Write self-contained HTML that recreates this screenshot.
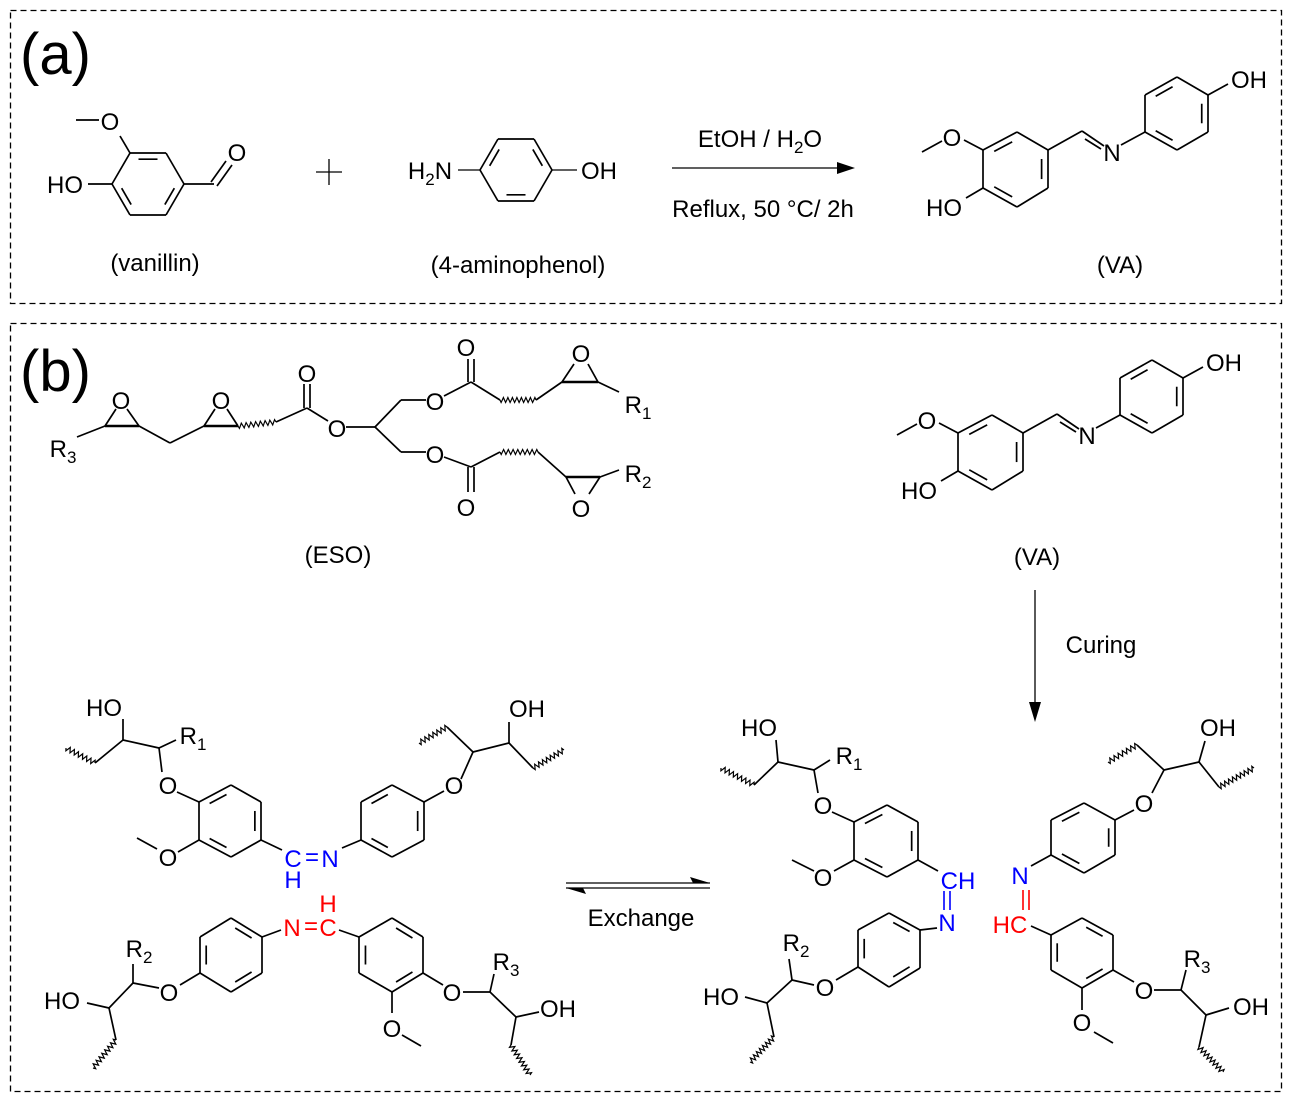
<!DOCTYPE html>
<html><head><meta charset="utf-8"><style>
html,body{margin:0;padding:0;background:#fff;}
svg{display:block;}
text{font-family:"Liberation Sans",Arial,sans-serif;fill:#000;}
.a{font-size:24px;text-anchor:middle;}
.b{fill:#0000ff;}
.r{fill:#ff0000;}
.s{font-size:17px;}
</style></head><body>
<svg id="s" width="1294" height="1101" viewBox="0 0 1294 1101" xmlns="http://www.w3.org/2000/svg">
<rect x="10.5" y="10.5" width="1271" height="293" fill="none" stroke="#000" stroke-width="1.3" stroke-dasharray="6,4"/>
<rect x="10.5" y="323.5" width="1271" height="768" fill="none" stroke="#000" stroke-width="1.3" stroke-dasharray="6,4"/>
<g id="g"></g>
<text x="20" y="74" style="font-size:58px">(a)</text>
<text x="20" y="391" style="font-size:58px">(b)</text>
<text class="a" x="110" y="130">O</text>
<text class="a" x="65" y="193">HO</text>
<text class="a" x="237" y="161">O</text>
<text class="a" x="155" y="271">(vanillin)</text>
<text class="a" x="430" y="179">H<tspan class="s" dy="6">2</tspan><tspan dy="-6">N</tspan></text>
<text class="a" x="599" y="179">OH</text>
<text class="a" x="518" y="273">(4-aminophenol)</text>
<text class="a" x="760" y="147">EtOH / H<tspan class="s" dy="6">2</tspan><tspan dy="-6">O</tspan></text>
<text class="a" x="763" y="217">Reflux, 50 °C/ 2h</text>
<g>
<text class="a" x="952" y="146">O</text>
<text class="a" x="944" y="216">HO</text>
<text class="a" x="1112" y="161">N</text>
<text class="a" x="1249" y="88">OH</text>
</g>
<text class="a" x="1120" y="273">(VA)</text>
<g transform="translate(-25,283)">
<text class="a" x="952" y="146">O</text>
<text class="a" x="944" y="216">HO</text>
<text class="a" x="1112" y="161">N</text>
<text class="a" x="1249" y="88">OH</text>
</g>
<text class="a" x="1037" y="565">(VA)</text>
<text class="a" x="63" y="457">R<tspan class="s" dy="6">3</tspan></text>
<text class="a" x="121" y="409">O</text>
<text class="a" x="221" y="409">O</text>
<text class="a" x="307" y="382">O</text>
<text class="a" x="337" y="437">O</text>
<text class="a" x="435" y="410">O</text>
<text class="a" x="435" y="463">O</text>
<text class="a" x="466" y="356">O</text>
<text class="a" x="466" y="516">O</text>
<text class="a" x="581" y="362">O</text>
<text class="a" x="581" y="517">O</text>
<text class="a" x="638" y="413">R<tspan class="s" dy="6">1</tspan></text>
<text class="a" x="638" y="482">R<tspan class="s" dy="6">2</tspan></text>
<text class="a" x="338" y="563">(ESO)</text>
<text class="a" x="1101" y="653">Curing</text>
<text class="a" x="641" y="926">Exchange</text>
<text class="a" x="104" y="716">HO</text>
<text class="a" x="193" y="744">R<tspan class="s" dy="6">1</tspan></text>
<text class="a" x="168" y="794">O</text>
<text class="a" x="168" y="866">O</text>
<text class="a b" x="293" y="867">C</text>
<text class="a b" x="312" y="865">=</text>
<text class="a b" x="330" y="867">N</text>
<text class="a b" x="293" y="888">H</text>
<text class="a" x="454" y="794">O</text>
<text class="a" x="527" y="717">OH</text>
<text class="a r" x="328" y="912">H</text>
<text class="a r" x="292" y="936">N</text>
<text class="a r" x="311" y="934">=</text>
<text class="a r" x="328" y="936">C</text>
<text class="a" x="392" y="1037">O</text>
<text class="a" x="452" y="1001">O</text>
<text class="a" x="506" y="970">R<tspan class="s" dy="6">3</tspan></text>
<text class="a" x="558" y="1017">OH</text>
<text class="a" x="169" y="1001">O</text>
<text class="a" x="139" y="957">R<tspan class="s" dy="6">2</tspan></text>
<text class="a" x="62" y="1009">HO</text>
<text class="a" x="759" y="736">HO</text>
<text class="a" x="849" y="764">R<tspan class="s" dy="6">1</tspan></text>
<text class="a" x="823" y="814">O</text>
<text class="a" x="823" y="886">O</text>
<text class="a b" x="958" y="889">CH</text>
<text class="a b" x="947" y="931">N</text>
<text class="a" x="825" y="996">O</text>
<text class="a" x="796" y="951">R<tspan class="s" dy="6">2</tspan></text>
<text class="a" x="721" y="1005">HO</text>
<text class="a" x="1218" y="736">OH</text>
<text class="a" x="1144" y="812">O</text>
<text class="a b" x="1020" y="884">N</text>
<text class="a r" x="1010" y="933">HC</text>
<text class="a" x="1082" y="1031">O</text>
<text class="a" x="1144" y="999">O</text>
<text class="a" x="1197" y="967">R<tspan class="s" dy="6">3</tspan></text>
<text class="a" x="1251" y="1015">OH</text>
</svg>
<script>
var g=document.getElementById('g'),NS='http://www.w3.org/2000/svg';
function ln(a,col,w){var e=document.createElementNS(NS,'line');e.setAttribute('x1',a[0]);e.setAttribute('y1',a[1]);e.setAttribute('x2',a[2]);e.setAttribute('y2',a[3]);e.setAttribute('stroke',col||'#000');e.setAttribute('stroke-width',w||1.7);g.appendChild(e);}
function L(arr,col,w){arr.forEach(function(a){ln(a,col,w)});}
function poly(p){var e=document.createElementNS(NS,'polygon');e.setAttribute('points',p);e.setAttribute('fill','#000');g.appendChild(e);}
function ring(p,inner,dx,dy){dx=dx||0;dy=dy||0;var cx=0,cy=0;p=p.map(function(q){return [q[0]+dx,q[1]+dy]});p.forEach(function(q){cx+=q[0]/6;cy+=q[1]/6});
for(var i=0;i<6;i++){var a=p[i],b=p[(i+1)%6];ln([a[0],a[1],b[0],b[1]]);
if(inner.indexOf(i)>=0){var f=0.2,s=0.17;var ax=a[0]+(cx-a[0])*f,ay=a[1]+(cy-a[1])*f,bx=b[0]+(cx-b[0])*f,by=b[1]+(cy-b[1])*f;
var ux=bx-ax,uy=by-ay;ln([ax+ux*s,ay+uy*s,bx-ux*s,by-uy*s]);}}}
function wavy(x1,y1,x2,y2){var dx=x2-x1,dy=y2-y1,len=Math.sqrt(dx*dx+dy*dy),n=Math.max(4,Math.round(len/4.5)),nx=-dy/len,ny=dx/len,d='M'+x1+' '+y1;
for(var i=1;i<=n*4;i++){var t=i/(n*4),s=Math.sin(t*n*Math.PI*2)*2.5;d+=' L'+(x1+dx*t+nx*s).toFixed(1)+' '+(y1+dy*t+ny*s).toFixed(1);}
var e=document.createElementNS(NS,'path');e.setAttribute('d',d);e.setAttribute('fill','none');e.setAttribute('stroke','#000');e.setAttribute('stroke-width',1.2);g.appendChild(e);}
ring([[184,184],[166,153],[130,153],[112,184],[130,215],[166,215]],[1,3,5]);
L([[112,184,88,184],[130,153,120,136],[76,120,99,120],[184,184,214,184],[211,182,226,161],[217,186,232,165]]);
ring([[480,170],[498,139],[534,139],[552,170],[534,201],[498,201]],[0,2,4]);
L([[458,170,480,170],[552,170,577,170],[316,172,342,172],[329,159,329,185],[672,168,840,168]],'#000',1.3);
poly('855,168 837,162 837,174');
function VA(dx,dy){
ring([[983,150],[1017,132],[1048,150],[1048,188],[1017,207],[983,188]],[0,2,4],dx,dy);
ring([[1145,95],[1177,77],[1208,95],[1208,132],[1177,150],[1145,132]],[0,2,4],dx,dy);
[[983,150,964,140],[922,152,942,141],[983,188,966,198],[1048,150,1082,131],[1082,131,1104,146],[1085,139,1101,149],[1121,145,1145,132],[1208,95,1228,84]].forEach(function(a){ln([a[0]+dx,a[1]+dy,a[2]+dx,a[3]+dy])});}
VA(0,0);VA(-25,283);
L([[77,437,105,426],[105,426,116,409],[139,426,127,409],[139,426,170,443],[170,443,204,426],[204,426,215,409],[238,426,227,409],[276,422,307,408],[304,408,304,384],[310,408,310,384],[307,408,328,421],[346,427,375,427],[375,427,401,400],[401,400,426,400],[375,427,401,452],[401,452,426,452],
[444,396,471,382],[468,382,468,359],[474,382,474,359],[471,382,500,400],[536,400,562,382],[562,382,574,364],[598,382,588,364],[598,382,619,392],
[444,457,471,467],[468,467,468,492],[474,467,474,492],[471,467,500,452],[538,452,566,477],[566,477,575,494],[600,477,589,494],[600,477,619,470]]);
L([[105,426,139,426],[204,426,238,426],[562,382,598,382],[566,477,600,477]],'#000',2.6);
wavy(238,426,276,422);wavy(500,400,536,400);wavy(500,452,538,452);
ln([1035,590,1035,705],'#000',1.3);poly('1035,722 1029,702 1041,702');
ln([566,883,710,883],'#000',1.3);poly('710,883 690,877 693,883');
ln([566,888,710,888],'#000',1.3);poly('566,888 586,894 583,888');
ring([[199,802],[231,785],[261,802],[261,840],[231,857],[199,840]],[0,2,4]);
ring([[361,802],[392,785],[424,802],[424,840],[392,857],[361,840]],[0,2,4]);
ring([[359,937],[392,918],[423,937],[423,973],[392,992],[359,973]],[1,3,5]);
ring([[262,937],[231,918],[200,937],[200,973],[231,992],[262,973]],[0,2,4]);
L([[123,719,123,740],[95,763,123,740],[123,740,159,748],[159,748,176,740],[159,748,162,772],[177,792,199,802],[199,840,178,852],[137,838,157,849],[261,840,282,850],[342,848,361,840],[424,802,444,791],[461,779,473,752],[473,752,447,727],[473,752,509,743],[509,743,509,722],[509,743,533,768],
[339,930,359,937],[281,930,262,937],[392,992,392,1013],[402,1035,421,1046],[423,973,443,985],[463,992,490,992],[490,992,494,974],[490,992,516,1017],[516,1017,539,1012],[516,1017,511,1045],
[200,973,180,985],[159,988,133,983],[133,983,133,964],[133,983,109,1008],[109,1008,87,1003],[109,1008,116,1040]]);
wavy(66,748,95,763);wavy(447,727,419,743);wavy(533,768,564,750);wavy(511,1045,530,1075);wavy(116,1040,93,1068);
ring([[854,822],[887,805],[918,822],[918,860],[887,877],[854,860]],[0,2,4]);
ring([[920,930],[889,913],[858,930],[858,967],[889,987],[920,968]],[0,2,4]);
ring([[1115,820],[1084,803],[1051,820],[1051,855],[1084,873],[1115,855]],[1,3,5]);
ring([[1051,935],[1082,918],[1113,935],[1113,970],[1082,988],[1051,970]],[1,3,5]);
L([[776,740,778,762],[754,785,778,762],[778,762,814,770],[814,770,830,760],[814,770,818,793],[832,812,854,822],[854,860,834,871],[792,860,814,871],[918,860,938,871],[937,928,920,930],
[858,967,836,980],[814,985,792,980],[792,980,789,959],[792,980,767,1003],[767,1003,745,997],[767,1003,774,1037],
[1205,741,1199,762],[1199,762,1219,787],[1199,762,1164,770],[1164,770,1137,745],[1164,770,1152,793],[1134,810,1115,820],[1051,855,1031,866],[1031,926,1051,935],[1082,988,1082,1010],[1094,1032,1113,1043],[1113,970,1134,982],[1154,990,1181,990],[1181,990,1186,970],[1181,990,1206,1015],[1206,1015,1229,1008],[1206,1015,1199,1047]]);
L([[944,891,944,910],[950,891,950,910]],'#0000ff',1.6);
L([[1023,890,1023,910],[1029,890,1029,910]],'#ff0000',1.6);
wavy(721,768,754,785);wavy(774,1037,750,1062);wavy(1219,787,1254,768);wavy(1137,745,1108,762);wavy(1199,1047,1223,1072);
</script>
</body></html>
